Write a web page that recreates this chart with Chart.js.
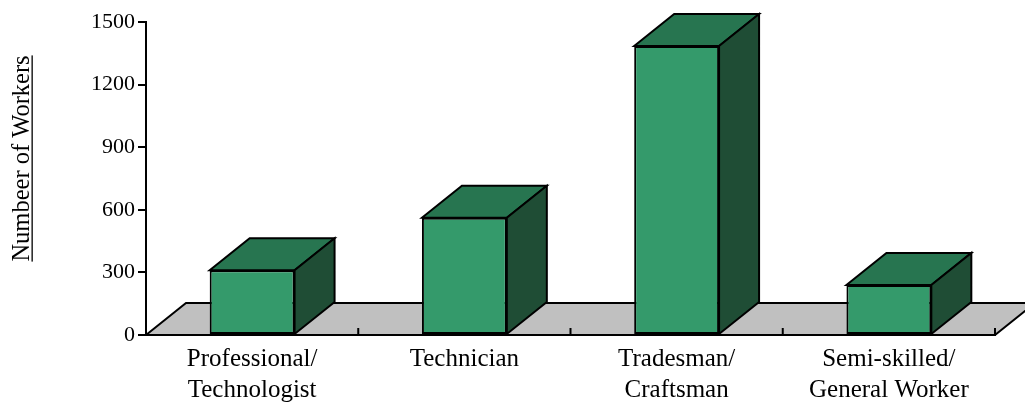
<!DOCTYPE html>
<html lang="en">

<head>
    <meta charset="UTF-8">
    <title>Number of Workers</title>
    <script src="https://cdn.jsdelivr.net/npm/chart.js"></script>
    <style>
        body { margin: 0; background: #fff; }
        #grafico { display: block; }
    </style>
</head>

<body>
    <canvas id="grafico" width="1025" height="403"></canvas>
</body>
<script>
    // data
    const categorias = [
        ['Professional/', 'Technologist'],
        'Technician',
        ['Tradesman/', 'Craftsman'],
        ['Semi-skilled/', 'General Worker']
    ];
    const trabalhadores = [310, 562, 1385, 240];
    const ticksY = [0, 300, 600, 900, 1200, 1500];
    const tituloY = 'Numbeer of Workers';

    const fonte = 'Liberation Serif';
    const prof = { dx: 40, dy: -32 };

    // gray floor + y title, drawn before the axes
    const chao3d = {
        id: 'chao3d',
        beforeDraw(chart) {
            const ctx = chart.ctx;
            const a = chart.chartArea;
            const x = chart.scales.x;
            ctx.save();
            ctx.beginPath();
            ctx.moveTo(a.left, a.bottom);
            ctx.lineTo(a.left + prof.dx, a.bottom + prof.dy);
            ctx.lineTo(a.right + prof.dx, a.bottom + prof.dy);
            ctx.lineTo(a.right, a.bottom);
            ctx.closePath();
            ctx.fillStyle = '#c0c0c0';
            ctx.fill();
            ctx.lineWidth = 2;
            ctx.strokeStyle = '#000';
            ctx.stroke();

            // category ticks pointing up into the floor
            const passo = x.getPixelForTick(1) - x.getPixelForTick(0);
            for (let i = 0; i < categorias.length; i++) {
                const px = x.getPixelForTick(i) + passo / 2;
                ctx.beginPath();
                ctx.moveTo(px, a.bottom);
                ctx.lineTo(px, a.bottom - 7);
                ctx.stroke();
            }

            // y title, underlined
            ctx.translate(29, (a.top + a.bottom) / 2 - 20);
            ctx.rotate(-Math.PI / 2);
            ctx.font = '24.5px "' + fonte + '"';
            ctx.fillStyle = '#000';
            ctx.textAlign = 'center';
            ctx.textBaseline = 'alphabetic';
            ctx.fillText(tituloY, 0, 0);
            const w = ctx.measureText(tituloY).width;
            ctx.fillRect(-w / 2, 2.5, w, 1.3);
            ctx.restore();
        }
    };

    // top and side faces of each bar
    const barras3d = {
        id: 'barras3d',
        afterDatasetsDraw(chart) {
            const ctx = chart.ctx;
            const meta = chart.getDatasetMeta(0);
            ctx.save();
            ctx.lineWidth = 2;
            ctx.lineJoin = 'miter';
            ctx.strokeStyle = '#000';
            meta.data.forEach(function (b) {
                const esq = b.x - b.width / 2;
                const dir = b.x + b.width / 2;
                const topo = b.y;
                const base = b.base;

                ctx.beginPath();
                ctx.moveTo(esq, topo);
                ctx.lineTo(esq + prof.dx, topo + prof.dy);
                ctx.lineTo(dir + prof.dx, topo + prof.dy);
                ctx.lineTo(dir, topo);
                ctx.closePath();
                ctx.fillStyle = '#277550';
                ctx.fill();
                ctx.stroke();

                ctx.beginPath();
                ctx.moveTo(dir, topo);
                ctx.lineTo(dir + prof.dx, topo + prof.dy);
                ctx.lineTo(dir + prof.dx, base + prof.dy);
                ctx.lineTo(dir, base);
                ctx.closePath();
                ctx.fillStyle = '#1f4d35';
                ctx.fill();
                ctx.stroke();
            });
            ctx.restore();
        }
    };

    const config = {
        type: 'bar',
        data: {
            labels: categorias,
            datasets: [{
                label: 'Workers',
                data: trabalhadores,
                backgroundColor: '#349a6b',
                borderColor: '#000',
                borderWidth: 2,
                borderSkipped: false,
                barPercentage: 0.4,
                categoryPercentage: 1
            }]
        },
        options: {
            responsive: false,
            devicePixelRatio: 1,
            animation: false,
            layout: { padding: { top: 22, right: 30, left: 0, bottom: 0 } },
            plugins: {
                legend: { display: false },
                tooltip: { enabled: false }
            },
            scales: {
                x: {
                    afterFit(s) { s.height = 68; },
                    grid: { display: false },
                    border: { display: true, color: '#000', width: 2, z: 1 },
                    ticks: {
                        color: '#000',
                        padding: 1,
                        maxRotation: 0,
                        font: { family: fonte, size: 25, lineHeight: 1.24 }
                    }
                },
                y: {
                    min: 0,
                    max: 1500,
                    afterFit(s) { s.width = 146; },
                    afterBuildTicks(s) { s.ticks = ticksY.map(v => ({ value: v })); },
                    grid: {
                        drawOnChartArea: false,
                        color: '#000',
                        lineWidth: 2,
                        tickLength: 8
                    },
                    border: { display: true, color: '#000', width: 2 },
                    ticks: {
                        color: '#000',
                        padding: 3,
                        font: { family: fonte, size: 22 },
                        callback: (v) => String(v)
                    }
                }
            }
        },
        plugins: [chao3d, barras3d]
    };

    new Chart(document.getElementById('grafico'), config);
</script>

</html>
